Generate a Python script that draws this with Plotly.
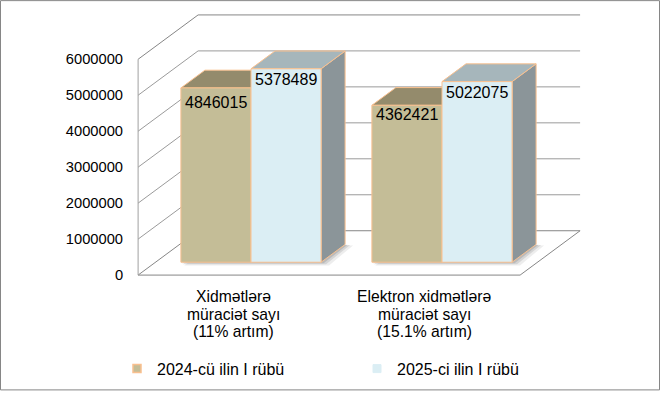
import plotly.graph_objects as go

# ---------------- data ----------------
categories = [
    ["Xidmətlərə", "müraciət sayı", "(11% artım)"],
    ["Elektron xidmətlərə", "müraciət sayı", "(15.1% artım)"],
]
series_names = ["2024-cü ilin I rübü", "2025-ci ilin I rübü"]
values_2024 = [4846015, 4362421]
values_2025 = [5378489, 5022075]
y_ticks = [0, 1000000, 2000000, 3000000, 4000000, 5000000, 6000000]
y_tick_labels = ["0", "1000000", "2000000", "3000000", "4000000", "5000000", "6000000"]

# ---------------- style / layout ----------------
W, H = 660, 396
ML, MR, MT, MB = 130, 70, 10, 111
PW, PH = W - ML - MR, H - MT - MB
FONT = "Liberation Sans, Arial, sans-serif"

# pixel anchors of the front plane
X0_PX, PX_PER_CAT = 233.6, 191.0
Y0_PX, PX_PER_VAL = 279.0, 36.5e-6
x_range = [(ML - X0_PX) / PX_PER_CAT, (ML + PW - X0_PX) / PX_PER_CAT]
y_range = [(Y0_PX - (MT + PH)) / PX_PER_VAL, (Y0_PX - MT) / PX_PER_VAL]

# oblique depth projection (full depth of the floor)
DX = 60.0 / PX_PER_CAT
DV = 45.0 / PX_PER_VAL
D0, D1 = 0.29, 0.69      # bar depth span
BW = 0.367               # bar width (category units)

EDGE = "#F9C08F"
WALL_EDGE = "#868686"
GRID = "#8E8E8E"
colors = {
    "tan": dict(front="#C4BD97", top="#948B6C", side="#8A8468"),
    "blue": dict(front="#DBEEF4", top="#A6B6BB", side="#8B9599"),
}


def P(u, v, d):
    return u + d * DX, v + d * DV


fig = go.Figure()


def poly(pts, fill, line_color=EDGE, width=1):
    xs = [p[0] for p in pts] + [pts[0][0]]
    ys = [p[1] for p in pts] + [pts[0][1]]
    fig.add_trace(go.Scatter(x=xs, y=ys, mode="lines", fill="toself",
                             fillcolor=fill, line=dict(color=line_color, width=width),
                             hoverinfo="skip", showlegend=False))


def line(pts, color, width=1):
    fig.add_trace(go.Scatter(x=[p[0] for p in pts], y=[p[1] for p in pts], mode="lines",
                             line=dict(color=color, width=width),
                             hoverinfo="skip", showlegend=False))


u_lo, u_hi = -0.5, len(categories) - 0.5
top = y_ticks[-1]

# floor
poly([P(u_lo, 0, 0), P(u_hi, 0, 0), P(u_hi, 0, 1), P(u_lo, 0, 1)], "white", WALL_EDGE)
# gridlines on left and back walls
for t in y_ticks[1:-1]:
    line([P(u_lo, t, 0), P(u_lo, t, 1), P(u_hi, t, 1)], GRID, 0.9)
line([P(u_lo, top, 0), P(u_lo, top, 1), P(u_hi, top, 1)], WALL_EDGE)
line([P(u_lo, 0, 0), P(u_lo, top, 0)], "#A0A0A0")

# soft floor shadows under each bar group
SH_DU = 5.0 / PX_PER_CAT
SH_DV = 2.0 / PX_PER_VAL
for i in range(len(categories)):
    c = float(i)
    uL, uR = c - BW, c + BW
    for k, alpha in ((1.6, 0.07), (1.0, 0.10), (0.5, 0.12)):
        pts = [P(uL + SH_DU * k * 0.4, -SH_DV * k, D0), P(uR + SH_DU * k, -SH_DV * k, D0),
               P(uR + SH_DU * k, -SH_DV * k * 0.3, D1), P(uL + SH_DU * k, 0, D1)]
        poly(pts, "rgba(0,0,0,%.2f)" % alpha, "rgba(0,0,0,0)", 0)

# bars
for i in range(len(categories)):
    c = float(i)
    for key, uL, uR, val in (("tan", c - BW, c, values_2024[i]),
                              ("blue", c, c + BW, values_2025[i])):
        col = colors[key]
        poly([P(uR, 0, D0), P(uR, val, D0), P(uR, val, D1), P(uR, 0, D1)], col["side"])
        poly([P(uL, val, D0), P(uR, val, D0), P(uR, val, D1), P(uL, val, D1)], col["top"])
        poly([P(uL, 0, D0), P(uR, 0, D0), P(uR, val, D0), P(uL, val, D0)], col["front"])

# legend entries
fig.add_trace(go.Scatter(x=[None], y=[None], mode="markers", name=series_names[0],
                         marker=dict(symbol="square", size=8, color=colors["tan"]["front"],
                                     line=dict(color=EDGE, width=1.5))))
fig.add_trace(go.Scatter(x=[None], y=[None], mode="markers", name=series_names[1],
                         marker=dict(symbol="square", size=8, color=colors["blue"]["front"],
                                     line=dict(color=colors["blue"]["front"], width=1))))

annotations = []
# value labels
label_dy = {("tan", 0): -4, ("blue", 0): 0, ("tan", 1): 1, ("blue", 1): 0}
for i in range(len(categories)):
    c = float(i)
    for key, uc, val in (("tan", c - BW / 2, values_2024[i]), ("blue", c + BW / 2, values_2025[i])):
        x, y = P(uc, val, D0)
        annotations.append(dict(x=x, y=y, xref="x", yref="y", text=str(val), showarrow=False,
                                xanchor="center", yanchor="top", yshift=label_dy[(key, i)],
                                font=dict(family=FONT, size=16, color="#000000")))
# category labels
line_px = [300.4, 318.0, 335.4]
for i, lines in enumerate(categories):
    for j, txt in enumerate(lines):
        annotations.append(dict(x=i, y=0, xref="x", yref="paper", text=txt, showarrow=False,
                                xanchor="center", yanchor="middle",
                                yshift=-(line_px[j] - (MT + PH)),
                                font=dict(family=FONT, size=15.7, color="#000000")))

fig.update_layout(
    width=W, height=H,
    margin=dict(l=ML, r=MR, t=MT, b=MB),
    paper_bgcolor="white", plot_bgcolor="white",
    font=dict(family=FONT, color="#000000"),
    xaxis=dict(range=x_range, showgrid=False, zeroline=False, showticklabels=False,
               ticks="", fixedrange=True),
    yaxis=dict(range=y_range, showgrid=False, zeroline=False, tickvals=y_ticks,
               ticktext=y_tick_labels, ticks="outside", ticklen=3,
               tickcolor="rgba(0,0,0,0)", tickfont=dict(family=FONT, size=14.7, color="#000000"),
               fixedrange=True),
    showlegend=True,
    legend=dict(orientation="h", x=(117 - ML) / PW, y=(MT + PH - 374) / PH,
                xanchor="left", yanchor="middle", entrywidth=195,
                font=dict(family=FONT, size=16, color="#000000"),
                bgcolor="rgba(0,0,0,0)"),
    annotations=annotations,
    shapes=[dict(type="rect", xref="paper", yref="paper",
                 x0=(0.5 - ML) / PW, x1=(W - 0.5 - ML) / PW,
                 y0=(MT + PH - (H - 0.5)) / PH, y1=(MT + PH - 0.5) / PH,
                 line=dict(color="#868686", width=1), fillcolor="rgba(0,0,0,0)")],
)

fig.write_html("out.html", config={"displayModeBar": False},
               post_script="document.body.style.margin='0';document.body.style.overflow='hidden';")
